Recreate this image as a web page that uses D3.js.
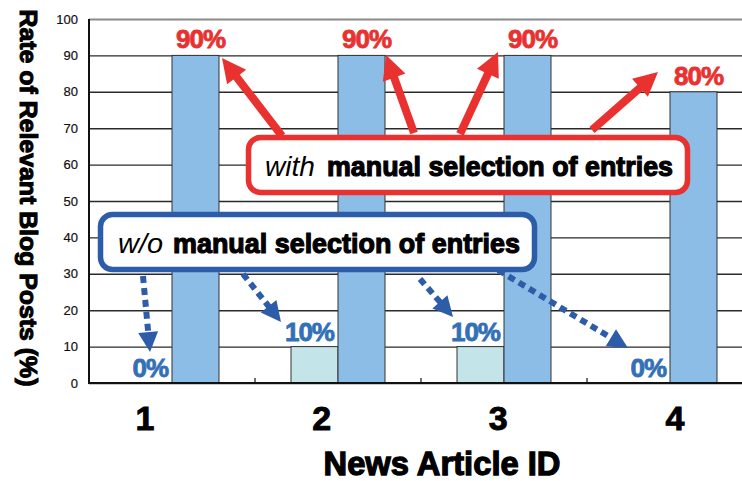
<!DOCTYPE html>
<html>
<head>
<meta charset="utf-8">
<script src="https://cdn.jsdelivr.net/npm/d3@7"></script>
<style>
  html, body { margin: 0; padding: 0; background: #fff; overflow: hidden; }
  text { font-family: "Liberation Sans", Arial, sans-serif; }
</style>
</head>
<body>
<svg id="chart" width="742" height="481"></svg>
<script>
// ---- data ----
const categories = ["1", "2", "3", "4"];
const withoutManual = [0, 10, 10, 0];   // w/o manual selection of entries
const withManual = [90, 90, 90, 80];    // with manual selection of entries
const yTickValues = [0, 10, 20, 30, 40, 50, 60, 70, 80, 90, 100];
const seriesKeys = ["without", "with"];
const yTitle = "Rate of Relevant Blog Posts (%)";
const xTitle = "News Article ID";
const calloutWithLead = "with";
const calloutWithoutLead = "w/o";
const calloutRest = "manual selection of entries";

// ---- layout ----
const svg = d3.select("#chart");
const plotLeft = 89, plotRight = 753, plotTop = 19, plotBottom = 383;

const RED = "#e9312f";
const BLUE_TEXT = "#3270b8";
const BLUE_LINE = "#2d5ca9";
const BAR_WITH = "#8cbde6";
const BAR_WITHOUT = "#c3e5ea";

const x0 = d3.scaleBand().domain(categories).range([plotLeft, plotRight]).padding(0);
const x1 = d3.scaleBand().domain(seriesKeys).range([0, x0.bandwidth()])
  .paddingInner(0).paddingOuter(0.766);
const y = d3.scaleLinear().domain([0, 100]).range([plotBottom, plotTop]);
const xLabel = d3.scalePoint().domain(categories).range([145, 675]);

// ---- gridlines + y tick labels ----
const yAxis = svg.append("g")
  .attr("transform", `translate(${plotLeft},0)`)
  .call(d3.axisLeft(y).tickValues(yTickValues).tickSize(-(plotRight - plotLeft)).tickPadding(11));
yAxis.select(".domain").remove();
yAxis.selectAll(".tick line")
  .attr("stroke", d => d === 100 ? "#8a8a8a" : "#2a2a2a")
  .attr("stroke-width", d => d === 100 ? 2 : 1.4);
yAxis.selectAll(".tick text")
  .attr("font-size", 13)
  .attr("fill", "#111")
  .attr("stroke", "#111").attr("stroke-width", 0.2)
  .style("font-family", "'Liberation Sans', Arial, sans-serif");

// ---- bars ----
const rows = categories.map((c, i) => ({ c, without: withoutManual[i], with: withManual[i] }));
const groups = svg.append("g").selectAll("g").data(rows).join("g")
  .attr("transform", d => `translate(${x0(d.c)},0)`);
groups.selectAll("rect")
  .data(d => seriesKeys.map(k => ({ key: k, value: d[k] })).filter(e => e.value > 0))
  .join("rect")
  .attr("x", e => x1(e.key))
  .attr("width", x1.bandwidth())
  .attr("y", e => y(e.value))
  .attr("height", e => y(0) - y(e.value))
  .attr("fill", e => e.key === "with" ? BAR_WITH : BAR_WITHOUT)
  .attr("stroke", "#333")
  .attr("stroke-width", 1);

// ---- axis lines ----
svg.append("line").attr("x1", plotLeft).attr("x2", plotLeft).attr("y1", plotTop).attr("y2", plotBottom + 1)
  .attr("stroke", "#111").attr("stroke-width", 2);
svg.append("line").attr("x1", plotLeft).attr("x2", plotRight).attr("y1", plotBottom).attr("y2", plotBottom)
  .attr("stroke", "#111").attr("stroke-width", 2);
svg.append("g").selectAll("line").data(categories).join("line")
  .attr("x1", c => x0(c) + x0.bandwidth()).attr("x2", c => x0(c) + x0.bandwidth())
  .attr("y1", plotBottom).attr("y2", plotBottom - 5)
  .attr("stroke", "#111").attr("stroke-width", 1.2);

// ---- x tick labels ----
svg.append("g").selectAll("text").data(categories).join("text")
  .attr("x", c => xLabel(c))
  .attr("y", 430)
  .attr("text-anchor", "middle")
  .attr("font-size", 34)
  .attr("font-weight", "bold")
  .attr("fill", "#000")
  .attr("stroke", "#000").attr("stroke-width", 0.9)
  .text(c => c);

// ---- axis titles ----
svg.append("text")
  .attr("x", 442).attr("y", 475)
  .attr("text-anchor", "middle")
  .attr("font-size", 34).attr("font-weight", "bold")
  .attr("textLength", 237).attr("lengthAdjust", "spacingAndGlyphs")
  .attr("fill", "#000").attr("stroke", "#000").attr("stroke-width", 1.3)
  .text(xTitle);

svg.append("text")
  .attr("transform", "translate(20,198) rotate(90)")
  .attr("text-anchor", "middle")
  .attr("font-size", 23).attr("font-weight", "bold")
  .attr("textLength", 377).attr("lengthAdjust", "spacingAndGlyphs")
  .attr("fill", "#000").attr("stroke", "#000").attr("stroke-width", 1.0)
  .text(yTitle);

// ---- value labels ----
svg.append("g").selectAll("text").data(rows).join("text")
  .attr("x", d => x0(d.c) + x1("with") + x1.bandwidth() / 2 + 5)
  .attr("y", d => y(d.with) - 7)
  .attr("text-anchor", "middle")
  .attr("font-size", 26).attr("font-weight", "bold")
  .attr("fill", RED).attr("stroke", RED).attr("stroke-width", 0.8)
  .attr("letter-spacing", -1)
  .text(d => d.with + "%");

svg.append("g").selectAll("text").data(rows).join("text")
  .attr("x", d => x0(d.c) + x1("without") + x1.bandwidth() - 4)
  .attr("y", d => y(d.without) - 6)
  .attr("text-anchor", "end")
  .attr("font-size", 26).attr("font-weight", "bold")
  .attr("fill", BLUE_TEXT).attr("stroke", BLUE_TEXT).attr("stroke-width", 0.8)
  .attr("letter-spacing", -1)
  .text(d => d.without + "%");

// ---- callout arrows ----
function arrow(g, xa, ya, xb, yb, color, shaftW, headL, headW, dash) {
  const dx = xb - xa, dy = yb - ya, len = Math.hypot(dx, dy);
  const ux = dx / len, uy = dy / len, px = -uy, py = ux;
  const bx = xb - ux * headL, by = yb - uy * headL;
  g.append("line")
    .attr("x1", xa).attr("y1", ya).attr("x2", bx + ux * 2).attr("y2", by + uy * 2)
    .attr("stroke", color).attr("stroke-width", shaftW)
    .attr("stroke-dasharray", dash || null);
  g.append("polygon")
    .attr("points", [[xb, yb], [bx + px * headW / 2, by + py * headW / 2], [bx - px * headW / 2, by - py * headW / 2]]
      .map(p => p.join(",")).join(" "))
    .attr("fill", color);
}

const arrows = svg.append("g");
const redArrowPaths = [[282, 136, 222, 58], [414, 133, 386, 55], [460, 134, 498, 52], [592, 130, 658, 72]];
redArrowPaths.forEach(a => arrow(arrows, a[0], a[1], a[2], a[3], RED, 8, 24, 24));
const blueArrowPaths = [[143, 276, 150, 352], [243, 274, 281, 322], [420, 279, 453, 317], [488, 264, 628, 348]];
blueArrowPaths.forEach(a => arrow(arrows, a[0], a[1], a[2], a[3], BLUE_LINE, 6, 20, 20, "7,5"));

// ---- callout boxes ----
function callout(bx, by, bw, bh, color, lead, leadX, leadW, restX, restW, baseY) {
  const g = svg.append("g");
  g.append("rect")
    .attr("x", bx).attr("y", by).attr("width", bw).attr("height", bh)
    .attr("rx", 12).attr("ry", 12)
    .attr("fill", "#fff").attr("stroke", color).attr("stroke-width", 5.5);
  g.append("text")
    .attr("x", leadX).attr("y", baseY)
    .attr("font-size", 27).attr("font-style", "italic")
    .attr("textLength", leadW).attr("lengthAdjust", "spacingAndGlyphs")
    .attr("fill", "#000")
    .text(lead);
  g.append("text")
    .attr("x", restX).attr("y", baseY)
    .attr("font-size", 28).attr("font-weight", "bold")
    .attr("textLength", restW).attr("lengthAdjust", "spacingAndGlyphs")
    .attr("fill", "#000").attr("stroke", "#000").attr("stroke-width", 1.2)
    .text(calloutRest);
}
callout(248.5, 137.5, 439, 55, RED, calloutWithLead, 265, 50, 327, 346, 176);
callout(100.5, 214.5, 434, 55, BLUE_LINE, calloutWithoutLead, 118, 45, 173, 347, 253);
</script>
</body>
</html>
